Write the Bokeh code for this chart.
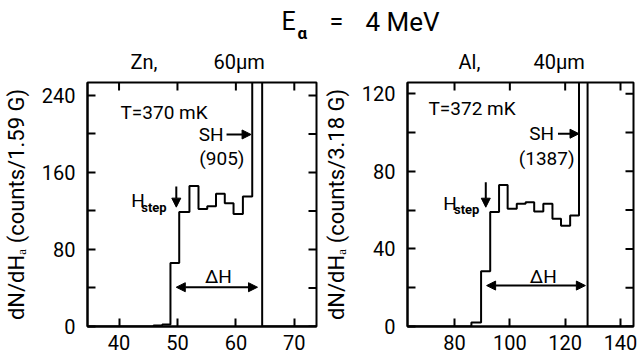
import math
from bokeh.plotting import figure
from bokeh.layouts import column, row
from bokeh.models import Label, Arrow, NormalHead, LinearAxis, FixedTicker, Range1d
from bokeh.embed import file_html
from bokeh.resources import INLINE
from bokeh.core.properties import value

FONT = "Roboto"

# ---------------- data ----------------
# Zn, 60 um  (bin width 1.59 G)
zn_edges = [45.9, 47.4, 48.8, 50.3, 52.05, 53.6, 55.1, 56.6, 58.1, 59.6, 61.2, 62.8, 64.5]
zn_counts = [1, 2, 66, 119, 146, 122, 125, 138, 128, 117, 135, 905]
zn_xticks = [40, 50, 60, 70]
zn_yticks = [0, 80, 160, 240]
zn_yminor = [40, 120, 200]

# Al, 40 um  (bin width 3.18 G)
al_edges = [86.1, 89.6, 92.9, 96.1, 99.2, 102.5, 105.7, 108.8, 112.1, 115.4, 118.5, 121.8, 125.0, 128.1]
al_counts = [2, 28.5, 59, 73, 60.7, 63.3, 64.1, 59.3, 63.3, 55.5, 52, 57.2, 1387]
al_xticks = [80, 100, 120, 140]
al_yticks = [0, 40, 80, 120]
al_yminor = [20, 60, 100]


def step_path(edges, counts, x0, x1):
    xs = [x0, edges[0]]
    ys = [0, 0]
    for i, c in enumerate(counts):
        xs += [edges[i], edges[i + 1]]
        ys += [c, c]
    xs += [edges[-1], x1]
    ys += [0, 0]
    return xs, ys


def style_axis(ax):
    ax.axis_line_width = 2
    ax.axis_line_color = "black"
    ax.major_tick_in = 8
    ax.major_tick_out = 0
    ax.minor_tick_in = 8
    ax.minor_tick_out = 0
    ax.major_tick_line_width = 2
    ax.minor_tick_line_width = 2
    ax.major_label_text_font = FONT
    ax.major_label_text_color = "black"
    ax.major_label_text_font_size = "20px"


def make_panel(xr, yr, xticks, yticks, yminor, ylabel, bl, br, edges, counts):
    p = figure(width=320, height=280, x_range=Range1d(*xr), y_range=Range1d(*yr),
               x_axis_type=None, y_axis_type=None, output_backend="svg",
               toolbar_location=None, min_border_left=bl, min_border_right=br,
               min_border_top=2, min_border_bottom=34,
               background_fill_color="white", border_fill_color="white")
    p.outline_line_color = "black"
    p.outline_line_width = 2
    bx = LinearAxis(ticker=FixedTicker(ticks=xticks))
    style_axis(bx)
    bx.major_label_standoff = 8
    p.add_layout(bx, "below")
    ly = LinearAxis(ticker=FixedTicker(ticks=yticks, minor_ticks=yminor), axis_label=ylabel)
    style_axis(ly)
    ly.major_label_standoff = 12
    ly.axis_label_standoff = 10
    ly.axis_label_text_font = FONT
    ly.axis_label_text_font_size = "22px"
    ly.axis_label_text_font_style = "normal"
    ly.axis_label_text_color = "black"
    p.add_layout(ly, "left")
    # inward ticks on the top and right edges of the frame
    p.ray(x=xticks, y=[yr[1]] * len(xticks), length=8, length_units="screen",
          angle=-math.pi / 2, line_color="black", line_width=2)
    yall = yticks + yminor
    p.ray(x=[xr[1]] * len(yall), y=yall, length=8, length_units="screen",
          angle=math.pi, line_color="black", line_width=2)
    xs, ys = step_path(edges, counts, xr[0], xr[1])
    p.line(xs, ys, line_color="black", line_width=2)
    return p


def lab(p, x, y, text, size="19px", align="left", style="normal"):
    p.add_layout(Label(x=x, y=y, text=text, text_font=FONT, text_font_size=size,
                       text_align=align, text_baseline="middle", text_color="black",
                       text_font_style=style))


def arrow(p, x0, y0, x1, y1, both=False):
    head = lambda: NormalHead(size=9, fill_color="black", line_color="black", line_width=1)
    p.add_layout(Arrow(start=head() if both else None, end=head(),
                       x_start=x0, y_start=y0, x_end=x1, y_end=y1,
                       line_color="black", line_width=2))


# ---------------- Zn panel ----------------
p1 = make_panel((34.6, 73.8), (0, 253.5), zn_xticks, zn_yticks, zn_yminor,
                "dN/dHₐ (counts/1.59 G)", 87, 4, zn_edges, zn_counts)
lab(p1, 40.25, 222.6, "T=370 mK")
lab(p1, 57.9, 199.5, "SH", align="right")
arrow(p1, 58.4, 199.5, 62.6, 199.5)
lab(p1, 57.6, 174.2, "(905)", align="center")
lab(p1, 42.1, 130.5, "H")
lab(p1, 43.8, 124.0, "step", "13px", style="bold")
arrow(p1, 49.8, 145.5, 49.8, 124.0)
lab(p1, 57.0, 51.5, "ΔH", align="center")
arrow(p1, 49.8, 40.8, 63.7, 40.8, both=True)

# ---------------- Al panel ----------------
p2 = make_panel((63.0, 144.7), (0, 125.8), al_xticks, al_yticks, al_yminor,
                "dN/dHₐ (counts/3.18 G)", 80, 7, al_edges, al_counts)
lab(p2, 70.6, 112.2, "T=372 mK")
lab(p2, 116.0, 99.5, "SH", align="right")
arrow(p2, 117.4, 99.4, 125.0, 99.4)
lab(p2, 113.3, 86.5, "(1387)", align="center")
lab(p2, 75.9, 63.5, "H")
lab(p2, 79.8, 60.3, "step", "13px", style="bold")
arrow(p2, 91.3, 74.4, 91.3, 61.5)
lab(p2, 112.1, 25.8, "ΔH", align="center")
arrow(p2, 91.6, 21.1, 127.3, 21.1, both=True)

# ---------------- title and panel headings ----------------
pt = figure(width=640, height=80, x_range=(0, 640), y_range=(0, 80),
            x_axis_type=None, y_axis_type=None, output_backend="svg",
            toolbar_location=None, min_border=0, outline_line_color=None,
            background_fill_color="white", border_fill_color="white")


def ttext(x, y, t, size, style="normal"):
    pt.text(x=[x], y=[y], text=[t], text_font=value(FONT), text_font_size=size,
            text_baseline="middle", text_color="black", text_font_style=style)


ttext(281, 59, "E", "25px")
ttext(297, 48, "α", "17px", "bold")
ttext(329, 59, "=", "25px")
ttext(365, 59, "4 MeV", "26px")
ttext(130, 19, "Zn,", "20px")
ttext(213, 19, "60µm", "20px")
ttext(458, 19, "Al,", "20px")
ttext(533, 19, "40µm", "20px")

layout = column(pt, row(p1, p2))
open("out.html", "w").write(file_html(layout, INLINE))
